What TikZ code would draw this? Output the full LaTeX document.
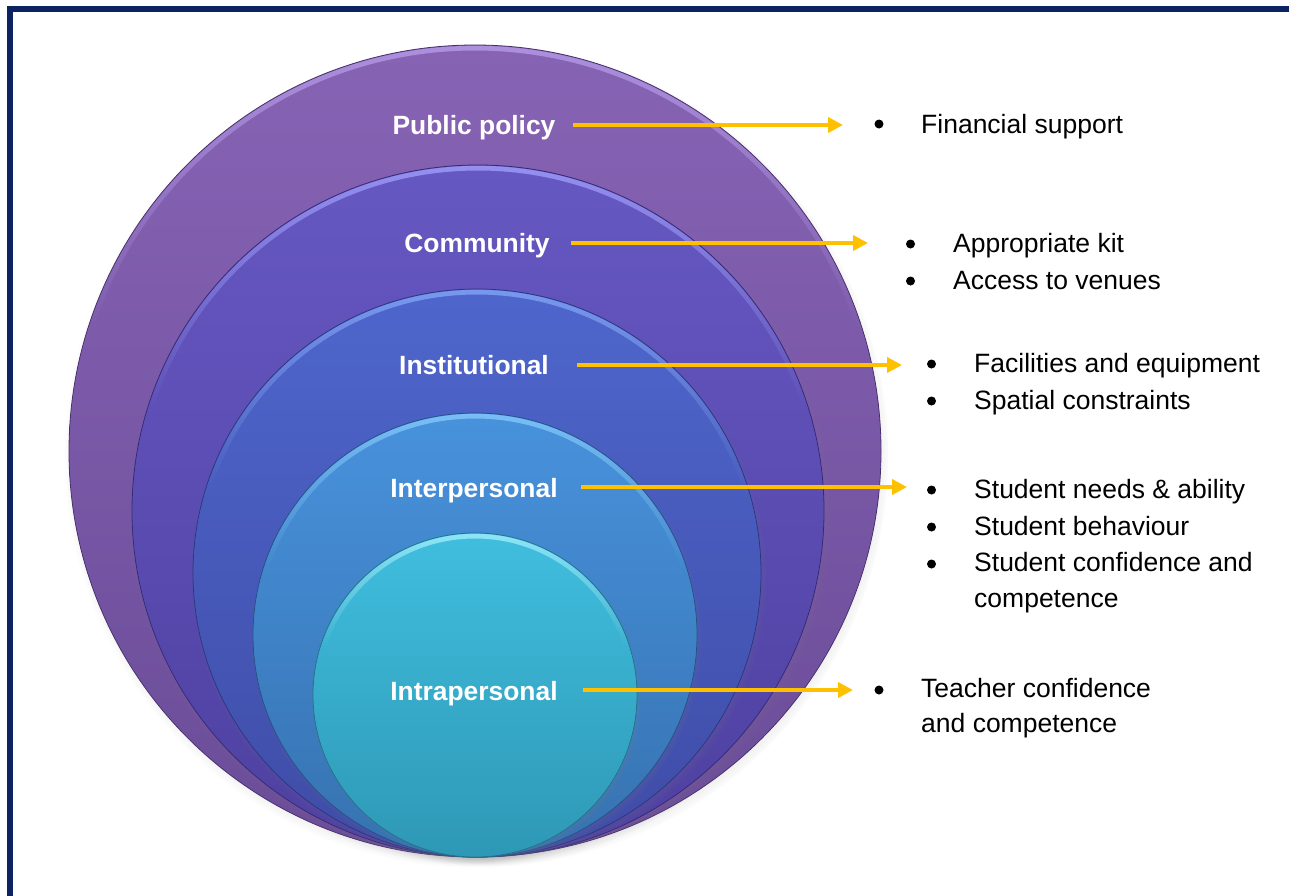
\documentclass[tikz,border=0pt]{standalone}
\usepackage{fontspec}
\setmainfont{Liberation Sans}
\usetikzlibrary{shadows,arrows.meta}
\definecolor{framecol}{HTML}{0B2461}
\definecolor{arrcol}{HTML}{FFC000}
% circle colours: highlight, top, bottom, outline
\definecolor{pH}{HTML}{AC90DE}\definecolor{pT}{HTML}{8763B4}\definecolor{pB}{HTML}{6A4C98}\definecolor{pD}{HTML}{46306C}
\definecolor{cH}{HTML}{9490F0}\definecolor{cT}{HTML}{6658C2}\definecolor{cB}{HTML}{4E40A0}\definecolor{cD}{HTML}{362A78}
\definecolor{iH}{HTML}{7898EE}\definecolor{iT}{HTML}{4E66CC}\definecolor{iB}{HTML}{3F4CA6}\definecolor{iD}{HTML}{2C387E}
\definecolor{nH}{HTML}{78BEF6}\definecolor{nT}{HTML}{4892DC}\definecolor{nB}{HTML}{3672B0}\definecolor{nD}{HTML}{285286}
\definecolor{aH}{HTML}{8EE4F6}\definecolor{aT}{HTML}{40BEDE}\definecolor{aB}{HTML}{2E98B6}\definecolor{aD}{HTML}{22748C}
\tikzset{
  lvl/.style={text=white, font=\fontsize{26.4}{30}\selectfont\bfseries, anchor=base, inner sep=0pt},
  itm/.style={text=black, font=\fontsize{26.5}{30}\selectfont, anchor=base west, inner sep=0pt},
  bul/.style={circle, fill=black, minimum size=9pt, inner sep=0pt},
  arr/.style={draw=arrcol, line width=3.8pt, -{Triangle[length=15pt,width=15pt]}},
  shd/.style={circular drop shadow={shadow scale=1.015, shadow xshift=2pt, shadow yshift=-4pt, opacity=0.6}},
}
\newcommand{\layer}[7]{% x, y, r, H, T, B, D
  \colorlet{mid#4}{#5!65!#6}%
  \pgfdeclareverticalshading{ring#4}{100bp}{color(0bp)=(#6); color(25bp)=(#6); color(57.5bp)=(mid#4); color(75bp)=(#4); color(100bp)=(#4)}%
  \path[shd, top color=#5, bottom color=#6, draw=#7, line width=0.8pt] (#1,#2) circle ({#3*1pt});
  \path[even odd rule, shading=ring#4] (#1,#2) circle ({(#3-0.8)*1pt}) (#1,#2) circle ({(#3-5.5)*1pt});
}
\begin{document}
\begin{tikzpicture}[x=1pt,y=-1pt]
\useasboundingbox (0,0) rectangle (1289,895);
\clip (0,0) rectangle (1289,895);
\fill[white] (0,0) rectangle (1289,895);
\draw[framecol, line width=6pt] (9.5,8.5) rectangle (1330,930);

% nested circles (all touching at the bottom)
\layer{475}{451}{406}{pH}{pT}{pB}{pD}
\layer{478}{511}{346}{cH}{cT}{cB}{cD}
\layer{477}{573}{284}{iH}{iT}{iB}{iD}
\layer{475}{635}{222}{nH}{nT}{nB}{nD}
\layer{475}{695}{162}{aH}{aT}{aB}{aD}

% level labels
\node[lvl] (pub) at (474,134.5) {Public policy};
\node[lvl] (com) at (477,252.5) {Community};
\node[lvl] (ins) at (474,374.5) {Institutional};
\node[lvl] (inter) at (474,497.5) {Interpersonal};
\node[lvl] (intra) at (474,700.5) {Intrapersonal};

% arrow end points
\coordinate (s1) at (573,125);  \coordinate (e1) at (843,125);
\coordinate (s2) at (571,243);  \coordinate (e2) at (868,243);
\coordinate (s3) at (577,365);  \coordinate (e3) at (902,365);
\coordinate (s4) at (581,487);  \coordinate (e4) at (907,487);
\coordinate (s5) at (583,690);  \coordinate (e5) at (853,690);
\draw[arr] (s1) -- (e1);
\draw[arr] (s2) -- (e2);
\draw[arr] (s3) -- (e3);
\draw[arr] (s4) -- (e4);
\draw[arr] (s5) -- (e5);

% bullet lists
\node[bul] (b1) at (879,124) {};
\node[itm] (t1) at (921,133) {Financial support};

\node[bul] (b2a) at (910.5,244) {};
\node[itm] (t2a) at (953,252) {Appropriate kit};
\node[bul] (b2b) at (910.5,281) {};
\node[itm] (t2b) at (953,289) {Access to venues};

\node[bul] (b3a) at (931.5,364) {};
\node[itm] (t3a) at (974,372) {Facilities and equipment};
\node[bul] (b3b) at (931.5,401) {};
\node[itm] (t3b) at (974,409) {Spatial constraints};

\node[bul] (b4a) at (931.5,490) {};
\node[itm] (t4a) at (974,498.5) {Student needs \& ability};
\node[bul] (b4b) at (931.5,527) {};
\node[itm] (t4b) at (974,535) {Student behaviour};
\node[bul] (b4c) at (931.5,564) {};
\node[itm] (t4c) at (974,571.5) {Student confidence and};
\node[itm] (t4d) at (974,607) {competence};

\node[bul] (b5) at (879,690) {};
\node[itm] (t5a) at (921,697.5) {Teacher confidence};
\node[itm] (t5b) at (921,732) {and competence};
\end{tikzpicture}
\end{document}
